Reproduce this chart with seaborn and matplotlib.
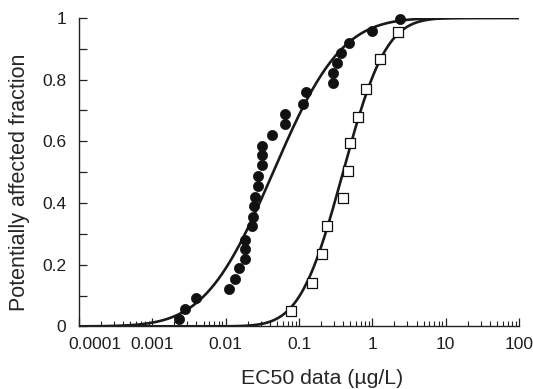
import math
import numpy as np
import pandas as pd
import matplotlib
matplotlib.use("Agg")
import matplotlib.pyplot as plt
import matplotlib.ticker as mticker
import matplotlib.transforms as mtransforms
import seaborn as sns

# ---- data ----
circle_x = [0.00233, 0.00279, 0.00394, 0.0111, 0.0133, 0.0151, 0.0182, 0.0186, 0.0182,
            0.0231, 0.0236, 0.0246, 0.0254, 0.0274, 0.0279, 0.0311, 0.0311, 0.0311,
            0.0426, 0.064, 0.064, 0.115, 0.125, 0.294, 0.294, 0.334, 0.375, 0.487,
            0.984, 2.39]
circle_y = [0.025, 0.057, 0.092, 0.121, 0.154, 0.189, 0.218, 0.252, 0.281,
            0.324, 0.356, 0.389, 0.420, 0.455, 0.489, 0.522, 0.554, 0.586,
            0.619, 0.657, 0.690, 0.721, 0.759, 0.790, 0.820, 0.855, 0.887, 0.917,
            0.957, 0.998]

square_x = [0.078, 0.152, 0.206, 0.242, 0.396, 0.463, 0.498, 0.627, 0.815, 1.28, 2.25]
square_y = [0.050, 0.142, 0.234, 0.326, 0.415, 0.504, 0.595, 0.679, 0.771, 0.868, 0.955]

# fitted log-normal SSD parameters (log10 mean, log10 sd)
fit_circle = (-1.352, 0.731)
fit_square = (-0.400, 0.460)

x_ticks = [0.0001, 0.001, 0.01, 0.1, 1, 10, 100]
x_tick_labels = ["0.0001", "0.001", "0.01", "0.1", "1", "10", "100"]
y_ticks = [0, 0.2, 0.4, 0.6, 0.8, 1.0]
y_tick_labels = ["0", "0.2", "0.4", "0.6", "0.8", "1"]


def lognorm_cdf(x, mu, sd):
    return [0.5 * (1 + math.erf((math.log10(v) - mu) / (sd * math.sqrt(2)))) for v in x]


xs = np.logspace(-4, 2, 400)
curves = pd.concat([
    pd.DataFrame({"x": xs, "y": lognorm_cdf(xs, *fit_circle), "s": "circle"}),
    pd.DataFrame({"x": xs, "y": lognorm_cdf(xs, *fit_square), "s": "square"}),
])
pts_c = pd.DataFrame({"x": circle_x, "y": circle_y})
pts_s = pd.DataFrame({"x": square_x, "y": square_y})

sns.set_style("ticks")
plt.rcParams["font.family"] = ["Liberation Sans", "DejaVu Sans"]
plt.rcParams["text.color"] = "#1e1e1e"

fig = plt.figure(figsize=(5.33, 3.89), dpi=100)
ax = fig.add_axes([0.148, 0.161, 0.826, 0.793])

sns.lineplot(data=curves, x="x", y="y", units="s", estimator=None, color="#1a1a1a",
             linewidth=1.9, ax=ax, legend=False)
sns.scatterplot(data=pts_c, x="x", y="y", ax=ax, marker="o", s=54, color="#111111",
                edgecolor="#111111", linewidth=0.5, zorder=3, clip_on=False)
sns.scatterplot(data=pts_s, x="x", y="y", ax=ax, marker="s", s=52, facecolor="white",
                edgecolor="#111111", linewidth=0.9, zorder=3, clip_on=False)

ax.set_xscale("log")
ax.set_xlim(1e-4, 100)
ax.set_ylim(0, 1)
ax.set_xticks(x_ticks)
ax.set_xticklabels(x_tick_labels)
ax.xaxis.set_minor_locator(mticker.LogLocator(base=10, subs=np.arange(2, 10)))
ax.xaxis.set_minor_formatter(mticker.NullFormatter())
ax.set_yticks(y_ticks)
ax.set_yticklabels(y_tick_labels)
ax.yaxis.set_minor_locator(mticker.MultipleLocator(0.1))

ax.tick_params(axis="both", which="both", labelcolor="#1e1e1e")
ax.tick_params(axis="x", which="major", direction="in", length=6, width=0.9,
               labelsize=12.5, pad=8, color="#222222")
ax.tick_params(axis="x", which="minor", direction="in", length=3.5, width=0.8,
               color="#222222")
ax.tick_params(axis="y", which="both", direction="in", length=6, width=0.9,
               labelsize=12.5, pad=9, color="#222222")

# first x label sits shifted right of its tick, as in the reference
first = ax.get_xticklabels()[0]
first.set_transform(first.get_transform() +
                    mtransforms.ScaledTranslation(16 / 100, 0, fig.dpi_scale_trans))

sns.despine(ax=ax)
for sp in ("left", "bottom"):
    ax.spines[sp].set_linewidth(1.0)
    ax.spines[sp].set_color("#222222")

ax.set_xlabel("EC50 data (µg/L)", fontsize=15.3)
ax.xaxis.label.set_va("baseline")
ax.xaxis.set_label_coords(0.552, -0.186)
ax.set_ylabel("Potentially affected fraction", fontsize=15.5)
ax.yaxis.label.set_va("center")
ax.yaxis.set_label_coords(-0.134, 0.468)

fig.savefig("out.png", dpi=100)
